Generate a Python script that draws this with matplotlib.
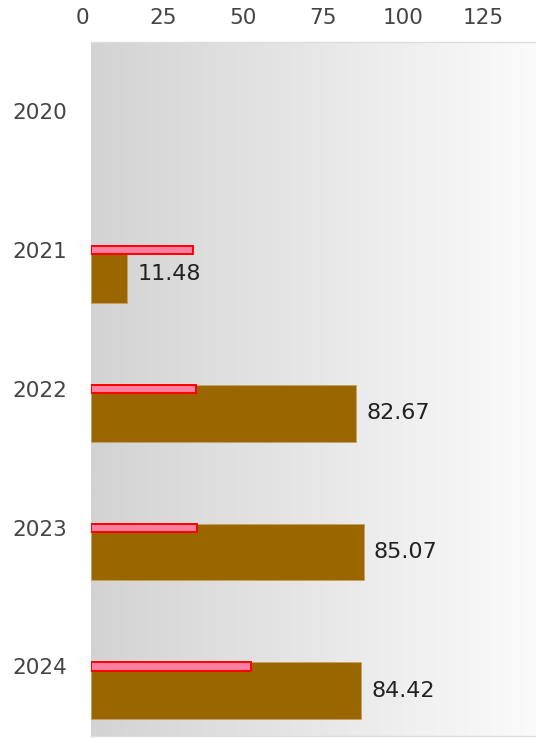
import os
import matplotlib
import matplotlib.pyplot as plt
import matplotlib.transforms as mtransforms
from matplotlib import font_manager
import numpy as np

years = ['2020', '2021', '2022', '2023', '2024']
main_values = [0, 11.48, 82.67, 85.07, 84.42]
target_values = [0, 32.0, 32.7, 33.3, 50.0]

# use the DejaVu file shipped with matplotlib
dv_path = os.path.join(matplotlib.get_data_path(), 'fonts', 'ttf', 'DejaVuSans.ttf')
font_manager.fontManager.addfont(dv_path)
dv_name = font_manager.FontProperties(fname=dv_path).get_name()
plt.rcParams['font.family'] = [dv_name]


def gradient_background(ax):
    grad = np.linspace(0, 1, 256).reshape(1, -1)
    cmap = matplotlib.colors.LinearSegmentedColormap.from_list(
        'bg', ['#d3d3d3', '#fbfbfb'])
    ax.imshow(grad, cmap=cmap, aspect='auto', zorder=0,
              extent=[ax.get_xlim()[0], ax.get_xlim()[1],
                      ax.get_ylim()[0], ax.get_ylim()[1]])


if __name__ == "__main__":
    fig = plt.figure(figsize=(5.36, 7.38), dpi=100)
    ax = fig.add_axes([0.169, 0.003, 0.831, 0.94])
    ax.set_xlim(0, 138.8)
    ax.set_ylim(4.5, -0.5)
    gradient_background(ax)

    pos = np.arange(len(years))
    shown = [v if v > 0 else np.nan for v in main_values]
    ax.barh(pos + 0.175, shown, height=0.41, color='#996600',
            edgecolor='#c8a060', linewidth=0.6, zorder=2)
    tshown = [v if v > 0 else np.nan for v in target_values]
    ax.barh(pos, tshown, height=0.06, color='#ff7fa0',
            edgecolor='#ff0000', linewidth=1.4, zorder=3)

    for p, v in zip(pos, main_values):
        if v > 0:
            ax.text(v + 3.2, p + 0.175, f'{v:.2f}', va='center', ha='left',
                    fontsize=16, color='#222222', zorder=4)

    ax.set_yticks(pos)
    ax.set_yticklabels(years)
    ax.set_xticks([0, 25, 50, 75, 100, 125])
    ax.xaxis.tick_top()
    ax.tick_params(axis='both', length=0, labelsize=15.5, colors='#444444')
    ax.tick_params(axis='x', pad=10)
    ax.tick_params(axis='y', pad=17)
    # top labels sit a little left of their grid positions
    shift = mtransforms.ScaledTranslation(-8 / 100, 0, fig.dpi_scale_trans)
    for lab in ax.get_xticklabels():
        lab.set_transform(lab.get_transform() + shift)
    for s in ['left', 'right']:
        ax.spines[s].set_visible(False)
    for s in ['top', 'bottom']:
        ax.spines[s].set_color('#dddddd')
        ax.spines[s].set_linewidth(1.0)

    plt.savefig('out.png', dpi=100)
